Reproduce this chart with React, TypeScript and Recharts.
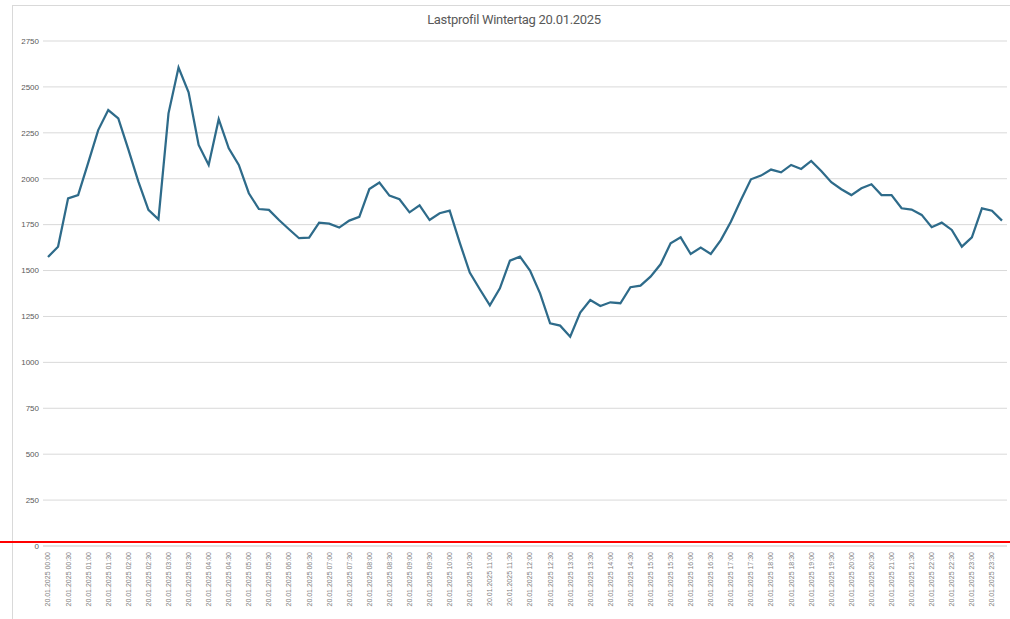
import { LineChart, Line, XAxis, YAxis, CartesianGrid } from "recharts";

// 15-minute load values (kW) for 20.01.2025
const loadValues = [
  1574, 1630, 1893, 1911, 2086, 2265, 2374, 2329, 2160, 1984, 1830, 1779,
  2356, 2605, 2471, 2184, 2075, 2324, 2166, 2075, 1921, 1835, 1830, 1775,
  1725, 1676, 1679, 1761, 1755, 1734, 1772, 1792, 1944, 1979, 1908, 1888,
  1817, 1855, 1775, 1812, 1826, 1652, 1489, 1398, 1311, 1403, 1554, 1576,
  1500, 1376, 1213, 1200, 1140, 1271, 1340, 1307, 1327, 1322, 1409, 1418,
  1467, 1534, 1648, 1681, 1590, 1625, 1590, 1666, 1766, 1884, 1997, 2017,
  2050, 2035, 2075, 2053, 2097, 2042, 1981, 1943, 1911, 1948, 1970, 1911,
  1911, 1839, 1832, 1803, 1736, 1761, 1721, 1630, 1681, 1839, 1826, 1772,
];

const day = "20.01.2025";
const quarterHours = ["00", "15", "30", "45"];
const timeLabels: string[] = [];
for (let h = 0; h < 24; h++) {
  for (const m of quarterHours) {
    timeLabels.push(`${day} ${String(h).padStart(2, "0")}:${m}`);
  }
}

const yTicks = [0, 250, 500, 750, 1000, 1250, 1500, 1750, 2000, 2250, 2500, 2750];

const data = timeLabels.map((t, i) => ({ time: t, value: loadValues[i] }));

const RotatedTick = ({ x, payload }: any) => (
  <text
    transform={`translate(${x}, 552) rotate(-90)`}
    textAnchor="end"
    dy="0.35em"
    fontSize={7}
    fill="#808080"
    fontFamily="'Liberation Sans', Arial, sans-serif"
  >
    {payload.value}
  </text>
);

const App = () => {
  return (
    <div
      style={{
        position: "absolute",
        top: 0,
        left: 0,
        width: 1010,
        height: 619,
        background: "#ffffff",
        overflow: "hidden",
        fontFamily: "'Liberation Sans', Arial, sans-serif",
      }}
    >
      {/* frame edges of the chart object */}
      <div style={{ position: "absolute", left: 12, top: 5, width: 998, height: 0, borderTop: "1px solid #d9d9d9" }} />
      <div style={{ position: "absolute", left: 12, top: 5, width: 0, height: 614, borderLeft: "1px solid #d9d9d9" }} />

      <div
        style={{
          position: "absolute",
          top: 12,
          left: 0,
          width: 1028,
          textAlign: "center",
          fontSize: 13,
          letterSpacing: -0.3,
          color: "#595959",
          fontFamily: "'Roboto', sans-serif",
        }}
      >
        Lastprofil Wintertag 20.01.2025
      </div>

      <div style={{ position: "absolute", top: 0, left: 0 }}>
        <LineChart width={1010} height={619} data={data} margin={{ top: 41, right: 3, bottom: 0, left: 8 }}>
          <CartesianGrid vertical={false} stroke="#d9d9d9" strokeWidth={1} />
          <XAxis
            dataKey="time"
            interval={1}
            height={73}
            padding={{ left: 5, right: 5 }}
            axisLine={{ stroke: "#d9d9d9" }}
            tickLine={false}
            tick={<RotatedTick />}
          />
          <YAxis
            domain={[0, 2750]}
            ticks={yTicks}
            width={35}
            axisLine={false}
            tickLine={false}
            tickSize={0}
            tickMargin={4}
            tick={{ fontSize: 8, fill: "#595959" }}
          />
          <Line
            type="linear"
            dataKey="value"
            stroke="#2e6b8a"
            strokeWidth={2.25}
            dot={false}
            isAnimationActive={false}
          />
        </LineChart>
      </div>

      {/* red marker line across the picture */}
      <div style={{ position: "absolute", left: 0, top: 541, width: 1010, height: 2, background: "#ff0000" }} />
    </div>
  );
};

export default App;
